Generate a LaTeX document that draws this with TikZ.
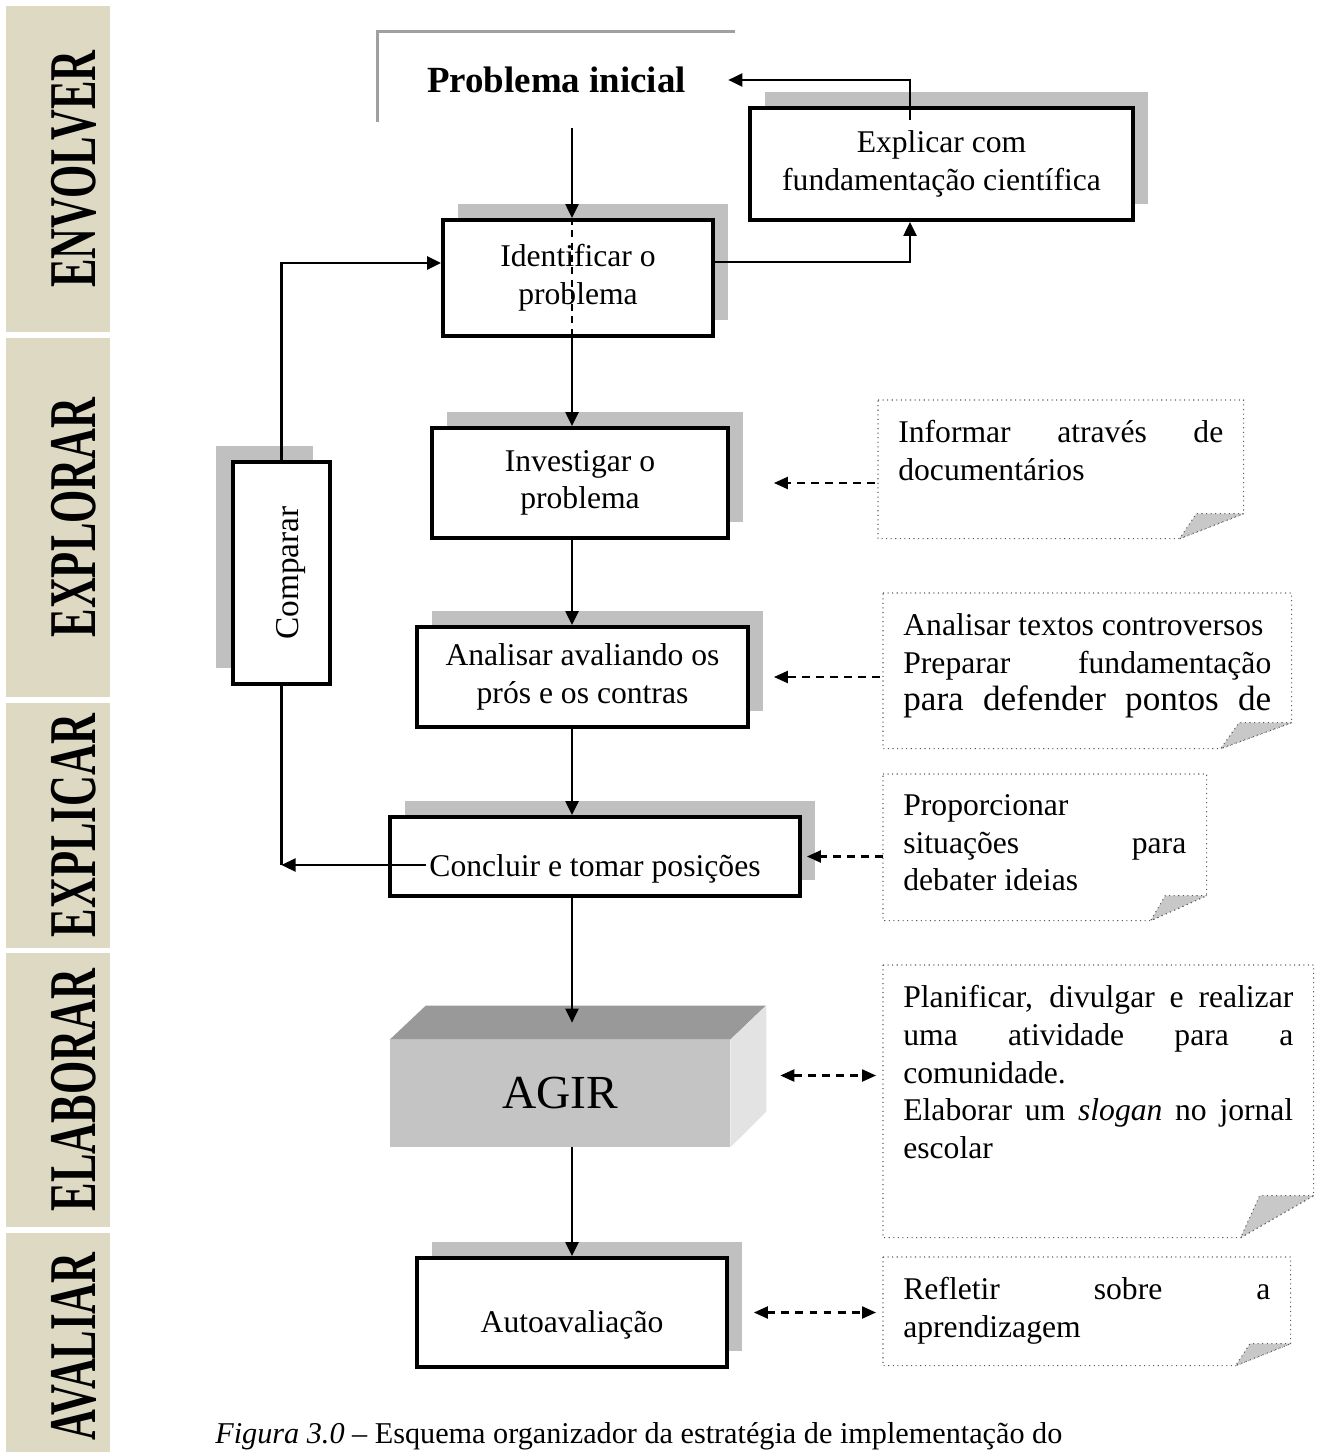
\documentclass[tikz,border=0pt]{standalone}
\usepackage{fontspec}
\setmainfont{Liberation Serif}
\usepackage{graphicx}
\usetikzlibrary{arrows.meta,shadows}

\definecolor{bandtan}{HTML}{DDD9C3}
\definecolor{shadowgray}{HTML}{C0C0C0}
\definecolor{framegray}{HTML}{A0A0A0}
\definecolor{agirfront}{HTML}{C4C4C4}
\definecolor{agirtop}{HTML}{999999}
\definecolor{agirside}{HTML}{E3E3E3}
\definecolor{foldgray}{HTML}{C8C8C8}

\newcommand{\bodyfont}{\fontsize{18}{21.5}\selectfont}
\tolerance=10000
\hbadness=10000

% note frame with folded corner: node, cut width, cut height
\newcommand{\notefold}[3]{%
  \draw[notedot] (#1.north west) -- (#1.north east) -- ([yshift=#3]#1.south east)
    -- ([xshift=-#2]#1.south east) -- (#1.south west) -- cycle;
  \filldraw[notedot, fill=foldgray] ([yshift=#3]#1.south east)
    -- ([xshift=-0.74*#2, yshift=#3]#1.south east) -- ([xshift=-#2]#1.south east) -- cycle;
}

\begin{document}
\begin{tikzpicture}[x=0.02cm, y=-0.02cm,
    stage/.style={draw, line width=2.2pt, fill=white, align=center, font=\bodyfont, inner sep=0pt,
      general shadow={fill=shadowgray, shadow xshift=#1, shadow yshift=0.32cm}},
    stage/.default=0.3cm,
    arrow/.style={-{Triangle[length=0.28cm, width=0.26cm]}, line width=1.3pt},
    dasharrow/.style={-{Triangle[length=0.28cm, width=0.24cm]}, line width=1.3pt, dash pattern=on 4.5pt off 3.5pt},
    dasharrows/.style={dasharrow, {Triangle[length=0.28cm, width=0.24cm]}-{Triangle[length=0.28cm, width=0.24cm]}},
    note/.style={anchor=north west, inner sep=0pt, font=\bodyfont},
    notedot/.style={line width=0.6pt, dotted, draw=black!65},
    bandtext/.style={rotate=90, inner sep=0pt, font=\fontsize{38}{38}\selectfont\bfseries}
]
    \useasboundingbox (0,0) rectangle (1322,1452);
    \clip (0,0) rectangle (1322,1452);

    % phase bands
    \foreach \ya/\yb/\phase in {6/332/ENVOLVER, 338/697/EXPLORAR, 703/948/EXPLICAR, 953/1227/ELABORAR, 1233/1460/AVALIAR} {
        \fill[bandtan] (6,\ya) rectangle (110,\yb);
        \node[bandtext] (band\phase) at (74,{(\ya+\yb)/2}) {\scalebox{0.64}[1]{\phase}};
    }

    % starting problem
    \node[minimum width=7.14cm, minimum height=1.92cm, font=\fontsize{21}{24}\selectfont\bfseries] (prob) at (556.5,80) {Problema inicial};
    \draw[framegray, line width=1.4pt] (prob.north east) -- (prob.north west) -- ([yshift=0.12cm]prob.south west);

    \node[stage, minimum width=5.4cm, minimum height=2.32cm] (ident) at (578,278) {Identificar o\\problema};
    \node[stage, minimum width=7.66cm, minimum height=2.24cm] (explic) at (941.5,164) {Explicar com\\fundamentação científica};
    \node[stage, minimum width=5.92cm, minimum height=2.2cm] (invest) at (580,483) {Investigar o\\problema};
    \node[stage, minimum width=6.62cm, minimum height=2.0cm] (analis) at (582.5,677) {Analisar avaliando os\\prós e os contras};
    \node[stage, minimum width=8.2cm, minimum height=1.58cm, text height=0.9cm, text depth=0.1cm] (concl) at (595,856.5) {Concluir e tomar posições};
    \node[stage=-0.34cm, minimum width=1.94cm, minimum height=4.44cm] (compar) at (281.5,573) {\hspace*{0.4cm}\rotatebox{90}{\fontsize{19}{19}\selectfont Comparar}};
    \node[stage, minimum width=6.2cm, minimum height=2.18cm, text height=0.9cm, text depth=0.1cm] (auto) at (572,1312.5) {Autoavaliação};

    % 3D block
    \node[fill=agirfront, minimum width=6.8cm, minimum height=2.14cm, inner sep=0pt, font=\fontsize{27}{27}\selectfont] (agir) at (560,1093.5) {AGIR};
    \fill[agirtop] (agir.north west) -- ++(36,-34) -- ++(340,0) -- (agir.north east) -- cycle;
    \fill[agirside] (agir.north east) -- ++(36,-34) -- ++(0,106) -- (agir.south east) -- cycle;

    % notes
    \node[note, minimum width=7.3cm, minimum height=2.76cm] (note1) at (878,400)
        {\parbox[t][1.96cm][t]{6.5cm}{Informar através de\linebreak documentários}};
    \node[note, minimum width=8.16cm, minimum height=3.1cm] (note2) at (883,593)
        {\parbox[t][2.3cm][t]{7.36cm}{Analisar textos controversos\\
        \makebox[\linewidth][s]{Preparar fundamentação}\\
        {\fontsize{20}{23}\selectfont\makebox[\linewidth][s]{para defender pontos de}}}};
    \node[note, minimum width=6.46cm, minimum height=2.92cm] (note3) at (883,774)
        {\parbox[t][2.12cm][t]{5.66cm}{Proporcionar\\ situações para\linebreak debater ideias}};
    \node[note, minimum width=8.6cm, minimum height=5.44cm] (note4) at (883,965)
        {\parbox[t][4.64cm][t]{7.8cm}{Planificar, divulgar e realizar\linebreak uma atividade para a\linebreak comunidade.\\
        Elaborar um \textit{slogan} no jornal\linebreak escolar}};
    \node[note, minimum width=8.14cm, minimum height=2.16cm] (note5) at (883,1257)
        {\parbox[t][1.36cm][t]{7.34cm}{Refletir sobre a\linebreak aprendizagem}};
    \notefold{note1}{1.28cm}{0.5cm}
    \notefold{note2}{1.42cm}{0.52cm}
    \notefold{note3}{1.12cm}{0.5cm}
    \notefold{note4}{1.46cm}{0.84cm}
    \notefold{note5}{1.1cm}{0.44cm}

    % main flow
    \coordinate (spine) at (572,0);
    \coordinate (agirin) at ([yshift=0.34cm]agir.north);
    \draw[arrow] (prob.south -| spine) -- (ident.north -| spine);
    \draw[line width=1.3pt, dash pattern=on 4pt off 3pt] (ident.north -| spine) -- (ident.south -| spine);
    \draw[arrow] (ident.south -| spine) -- (invest.north -| spine);
    \draw[arrow] (invest.south -| spine) -- (analis.north -| spine);
    \draw[arrow] (analis.south -| spine) -- (concl.north -| spine);
    \draw[arrow] (concl.south -| spine) -- (agirin -| spine);
    \draw[arrow] (agir.south -| spine) -- (auto.north -| spine);

    % explanation loop
    \coordinate (riser) at ([xshift=-0.63cm]explic.south);
    \coordinate (feed) at ([xshift=-0.63cm, yshift=-0.28cm]explic.north);
    \draw[arrow] ([yshift=0.32cm]ident.east) -| (riser);
    \draw[arrow] (feed) |- ([xshift=-0.14cm]prob.east);

    % comparison loop
    \coordinate (cstart) at ([xshift=0.76cm, yshift=-0.17cm]concl.west);
    \draw[arrow] (cstart) -- (cstart -| compar.south);
    \draw[line width=1.3pt] (cstart -| compar.south) -- (compar.south);
    \draw[arrow] (compar.north) |- ([yshift=0.3cm]ident.west);

    % links to notes
    \coordinate (agirport) at ([yshift=0.36cm]agir.east);
    \draw[dasharrow, shorten <=0.06cm, shorten >=0.88cm] (note1.west |- invest.east) -- (invest.east);
    \draw[dasharrow, shorten <=0.06cm, shorten >=0.48cm] (note2.west |- analis.east) -- (analis.east);
    \draw[dasharrow, shorten >=0.1cm] (note3.west |- concl.east) -- (concl.east);
    \draw[dasharrows, shorten <=1.0cm, shorten >=0.14cm] (agirport) -- (note4.west |- agirport);
    \draw[dasharrows, shorten <=0.5cm, shorten >=0.14cm] (auto.east) -- (note5.west |- auto.east);

    \node[anchor=base west, inner sep=0pt, font=\fontsize{17.2}{20}\selectfont] (caption) at (215,1443)
        {\textit{Figura 3.0} – Esquema organizador da estratégia de implementação do};
\end{tikzpicture}
\end{document}
